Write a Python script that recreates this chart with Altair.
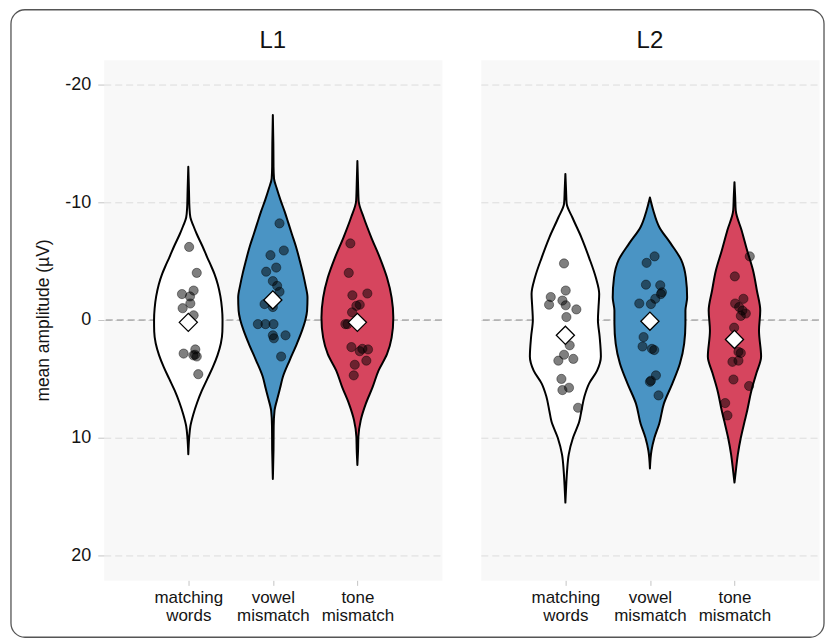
import altair as alt
import pandas as pd

# ---- categories -------------------------------------------------------------
groups = ["L1", "L2"]
conditions = ["matching words", "vowel mismatch", "tone mismatch"]
cond_colors = ["#ffffff", "#4a94c4", "#d6455e"]
positions = [1, 2, 3]
y_ticks = [-20, -10, 0, 10, 20]

# ---- violin outlines: amplitude levels and half-widths (x units) ------------
l1_match_amp = [-13.0, -11.0, -9.5, -8.7, -8.0, -7.3, -6.3, -5.3, -4.5, -3.9, -3.0, -2.0, -1.0,
                0.0, 1.0, 2.0, 3.0, 4.0, 5.0, 6.0, 7.0, 8.0, 9.0, 10.0, 11.4]
l1_match_w = [0.0, 0.008, 0.014, 0.025, 0.06, 0.1, 0.165, 0.225, 0.275, 0.31, 0.35, 0.38, 0.398,
              0.405, 0.403, 0.385, 0.345, 0.29, 0.225, 0.16, 0.105, 0.06, 0.025, 0.01, 0.0]

l1_vowel_amp = [-17.4, -15.0, -13.0, -12.0, -11.2, -10.2, -9.2, -8.2, -7.3, -6.2, -5.0, -4.0, -3.0,
                -1.9, -0.8, 0.0, 0.9, 2.0, 3.4, 4.8, 5.8, 6.5, 7.7, 9.0, 11.0, 13.5]
l1_vowel_w = [0.0, 0.006, 0.008, 0.014, 0.045, 0.09, 0.14, 0.185, 0.225, 0.275, 0.32, 0.355, 0.385,
              0.41, 0.405, 0.385, 0.345, 0.285, 0.2, 0.12, 0.085, 0.06, 0.02, 0.01, 0.008, 0.0]

l1_tone_amp = [-13.5, -11.5, -10.1, -8.7, -7.0, -5.3, -3.6, -1.9, -0.2, 1.5, 2.9, 4.3, 5.7, 7.1,
               8.5, 9.9, 11.0, 12.3]
l1_tone_w = [0.0, 0.008, 0.015, 0.075, 0.165, 0.265, 0.35, 0.405, 0.425, 0.405, 0.35, 0.25, 0.18,
             0.1, 0.04, 0.012, 0.008, 0.0]

l2_match_amp = [-12.4, -11.0, -9.9, -8.7, -7.0, -5.3, -3.6, -2.2, -1.1, 0.0, 1.4, 3.1, 4.3, 5.4,
                6.5, 7.7, 8.6, 10.0, 11.4, 12.8, 14.0, 15.5]
l2_match_w = [0.0, 0.008, 0.015, 0.083, 0.19, 0.28, 0.36, 0.4, 0.392, 0.385, 0.405, 0.42, 0.375,
              0.28, 0.225, 0.19, 0.165, 0.09, 0.04, 0.02, 0.01, 0.0]

l2_vowel_amp = [-10.4, -9.3, -7.9, -6.5, -5.1, -3.6, -1.9, -0.8, 0.3, 2.0, 3.7, 5.4, 7.1, 8.8,
                10.0, 11.1, 12.6]
l2_vowel_w = [0.0, 0.04, 0.11, 0.245, 0.37, 0.425, 0.44, 0.42, 0.42, 0.405, 0.355, 0.265, 0.165,
              0.11, 0.053, 0.018, 0.0]

l2_tone_amp = [-11.7, -10.5, -9.3, -7.6, -5.9, -4.2, -2.5, -0.8, 0.9, 3.1, 4.5, 6.0, 7.7, 8.6,
               10.0, 11.4, 12.8, 13.8]
l2_tone_w = [0.0, 0.008, 0.015, 0.085, 0.15, 0.22, 0.265, 0.305, 0.29, 0.315, 0.26, 0.2, 0.15,
             0.12, 0.075, 0.04, 0.016, 0.0]

# ---- participant means (amplitude) and their horizontal jitter --------------
l1_match_pts = [-6.2, -4.0, -2.2, -2.5, -2.0, -1.4, -1.0, -0.4, 2.85, 2.5, 2.95, 3.1, 3.0, 4.6]
l1_match_jit = [0.01, 0.10, -0.075, 0.063, 0.02, 0.024, -0.067, 0.063, -0.055, 0.083, 0.08, 0.1,
                0.06, 0.118]

l1_vowel_pts = [-8.2, -5.9, -5.5, -4.45, -4.1, -3.3, -2.9, -2.4, -1.35, -1.1, 0.35, 0.35, 0.35,
                1.3, 1.55, 1.3, 3.1]
l1_vowel_jit = [0.079, 0.13, -0.028, 0.04, -0.079, 0.0, 0.051, 0.079, -0.098, 0.0, -0.177, -0.087,
                0.008, 0.0, 0.012, 0.15, 0.098]

l1_tone_pts = [-6.5, -4.0, -2.25, -2.1, -1.3, -1.2, -0.65, 0.35, 0.35, 2.3, 2.65, 2.45, 2.5, 3.45,
               3.8, 4.7]
l1_tone_jit = [-0.083, -0.102, 0.118, -0.059, 0.028, -0.012, -0.063, -0.142, -0.118, -0.071, 0.028,
               0.059, 0.126, 0.106, -0.031, -0.043]

l2_match_pts = [-4.8, -2.5, -1.95, -1.3, -1.65, -1.25, -0.9, -0.25, 2.15, 2.95, 3.3, 3.45, 5.0,
                5.95, 5.75, 7.45]
l2_match_jit = [-0.016, 0.004, -0.173, -0.193, -0.035, 0.004, 0.13, 0.012, 0.051, -0.016, 0.094,
                -0.083, -0.047, -0.035, 0.043, 0.15]

l2_vowel_pts = [-5.4, -4.85, -3.0, -2.95, -2.35, -2.2, -1.8, -1.4, -1.35, 1.45, 2.25, 2.45, 2.55,
                4.7, 5.15, 5.25, 6.4]
l2_vowel_jit = [0.055, -0.039, -0.047, 0.122, 0.142, 0.13, 0.063, -0.126, 0.012, -0.075, -0.087,
                0.024, 0.051, 0.071, 0.012, 0.0, 0.102]

l2_tone_pts = [-5.4, -3.7, -1.8, -1.4, -1.1, -0.8, -0.55, -0.35, 0.65, 2.7, 2.8, 3.55, 3.45, 5.05,
               5.6, 7.05, 8.1]
l2_tone_jit = [0.181, 0.004, 0.106, 0.008, 0.055, 0.094, 0.134, 0.075, -0.004, 0.047, 0.075,
               -0.024, 0.047, -0.012, 0.173, -0.11, -0.083]

# ---- grand means per condition ----------------------------------------------
l1_means = [0.2, -1.7, 0.2]
l2_means = [1.3, 0.1, 1.65]

violins = {
    "L1": [(l1_match_amp, l1_match_w), (l1_vowel_amp, l1_vowel_w), (l1_tone_amp, l1_tone_w)],
    "L2": [(l2_match_amp, l2_match_w), (l2_vowel_amp, l2_vowel_w), (l2_tone_amp, l2_tone_w)],
}
points = {
    "L1": [(l1_match_pts, l1_match_jit), (l1_vowel_pts, l1_vowel_jit), (l1_tone_pts, l1_tone_jit)],
    "L2": [(l2_match_pts, l2_match_jit), (l2_vowel_pts, l2_vowel_jit), (l2_tone_pts, l2_tone_jit)],
}
means = {"L1": l1_means, "L2": l2_means}

# multi-line tick labels for the condition axis
label_expr = ""
for p, c in zip(positions, conditions):
    words = c.split(" ")
    arr = "[" + ",".join("'%s'" % w for w in words) + "]"
    label_expr += "datum.value == %d ? %s : " % (p, arr)
label_expr += "''"

FONT = "Liberation Sans"
TEXT = "#141414"
PANEL_W, PANEL_H = 339, 522

x_scale = alt.Scale(domain=[0, 4], nice=False, zero=False)
y_scale = alt.Scale(domain=[-22.1, 22.1], reverse=True, nice=False, zero=False)

x_axis = alt.Axis(values=positions, labelExpr=label_expr, title=None, grid=False, domain=False,
                  tickColor="#c4c4c4", tickSize=5, labelFontSize=17, labelColor=TEXT,
                  labelLineHeight=18, labelPadding=4, labelFont=FONT)


def y_axis(show):
    if show:
        return alt.Axis(values=y_ticks, labelExpr="'' + datum.value",
                        title="mean amplitude (µV)", grid=True,
                        domain=False, tickColor="#c4c4c4", tickSize=6, labelPadding=7,
                        labelFontSize=18, labelColor=TEXT, labelFont=FONT,
                        titleFontSize=17.5, titleFontWeight="normal", titleColor=TEXT,
                        titleFont=FONT, titlePadding=12)
    return alt.Axis(values=y_ticks, title=None, grid=True, domain=False,
                    labels=False, ticks=False)


def panel(group, show_y, with_frame):
    vrows, prows, mrows = [], [], []
    for ci, (cond, pos) in enumerate(zip(conditions, positions)):
        amps, widths = violins[group][ci]
        for a, w in zip(amps, widths):
            vrows.append({"condition": cond, "pos": pos, "amp": a, "hw": w})
        pts, jit = points[group][ci]
        for a, j in zip(pts, jit):
            prows.append({"condition": cond, "pos": pos, "amp": a, "jit": j})
        mrows.append({"condition": cond, "pos": pos, "mean": means[group][ci]})
    vdf, pdf, mdf = pd.DataFrame(vrows), pd.DataFrame(prows), pd.DataFrame(mrows)

    ya = y_axis(show_y)

    zero = alt.Chart(pd.DataFrame({"level": [0]})).mark_rule(
        color="#8a8a8a", strokeDash=[7, 4], strokeWidth=1.2
    ).encode(y=alt.Y("level:Q", scale=y_scale, axis=ya))

    violin = alt.Chart(vdf).transform_calculate(
        lo="datum.pos - datum.hw", hi="datum.pos + datum.hw"
    ).mark_area(
        orient="horizontal", interpolate="monotone", stroke="black", strokeWidth=2,
        strokeJoin="round", opacity=1
    ).encode(
        y=alt.Y("amp:Q", scale=y_scale, axis=ya),
        x=alt.X("lo:Q", scale=x_scale, axis=x_axis),
        x2="hi:Q",
        fill=alt.Fill("condition:N", scale=alt.Scale(domain=conditions, range=cond_colors),
                      legend=None),
        detail="condition:N",
    )

    dots = alt.Chart(pdf).transform_calculate(
        xj="datum.pos + datum.jit"
    ).mark_point(
        filled=True, fill="black", fillOpacity=0.5, stroke="black", strokeOpacity=0.6,
        strokeWidth=0.7, size=85, shape="circle"
    ).encode(
        y=alt.Y("amp:Q", scale=y_scale, axis=ya),
        x=alt.X("xj:Q", scale=x_scale, axis=x_axis),
    )

    diamonds = alt.Chart(mdf).mark_point(
        shape="diamond", filled=True, fill="white", stroke="black", strokeWidth=1.3,
        size=330, opacity=1
    ).encode(
        y=alt.Y("mean:Q", scale=y_scale, axis=ya),
        x=alt.X("pos:Q", scale=x_scale, axis=x_axis),
    )

    layers = [zero, violin, dots, diamonds]
    title_dy = 0
    if with_frame:
        # rounded outline around the whole figure
        frame = alt.Chart(pd.DataFrame({"frame": [0]})).mark_rect(
            fill="transparent", stroke="#555555", strokeWidth=1.3, cornerRadius=14
        ).encode(x=alt.value(-93), x2=alt.value(722), y=alt.value(-50), y2=alt.value(579))
        layers = [frame] + layers
        # the outline widens this panel's bounds upward; bring its title back down
        title_dy = 50.6

    return alt.layer(*layers).properties(
        width=PANEL_W, height=PANEL_H,
        title=alt.TitleParams(group, fontSize=24, fontWeight="normal", color="#111111",
                              font=FONT, offset=7, anchor="middle", frame="group",
                              dy=title_dy),
    )


chart = alt.hconcat(
    panel("L1", True, True), panel("L2", False, False), spacing=39, bounds="flush"
).properties(
    padding={"left": 9, "top": 7, "right": 0, "bottom": 0}, background="white"
).configure(font=FONT).configure_view(
    fill="#f8f8f8", stroke="transparent"
).configure_axis(
    gridColor="#dcdcdc", gridDash=[7, 4], gridWidth=1
)

chart.save("out.html", embed_options={"renderer": "svg", "actions": False})
